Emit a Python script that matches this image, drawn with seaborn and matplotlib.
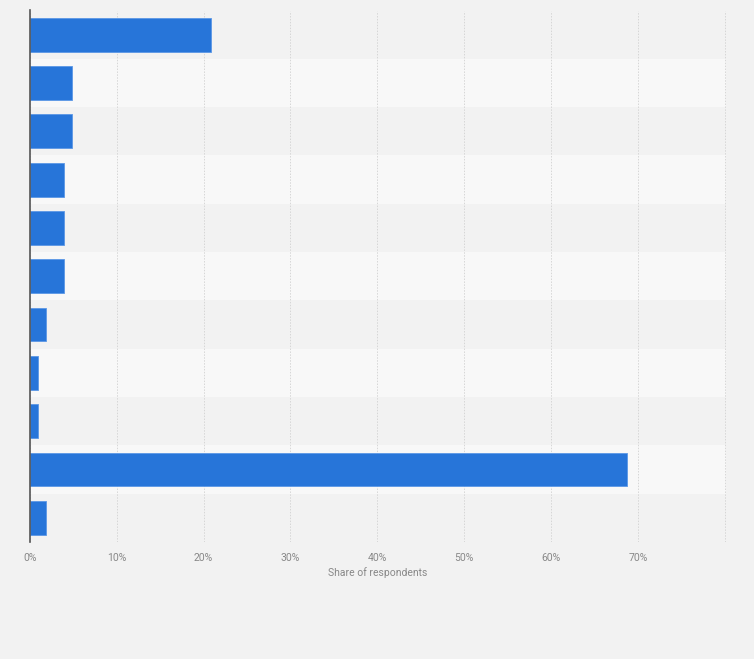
import matplotlib
matplotlib.use("Agg")
import matplotlib.pyplot as plt
import seaborn as sns

# answer options are not shown in the chart, only the shares
categories = [f"Option {i}" for i in range(1, 12)]
shares = [20.8, 4.8, 4.8, 3.9, 3.9, 3.9, 1.8, 0.9, 0.9, 68.8, 1.8]
x_ticks = [0, 10, 20, 30, 40, 50, 60, 70, 80]
x_labels = ["0%", "10%", "20%", "30%", "40%", "50%", "60%", "70%", ""]

sns.set_theme(style="white")
plt.rcParams["font.family"] = ["Liberation Sans Narrow", "Roboto", "DejaVu Sans"]

BG = "#f2f2f2"
fig = plt.figure(figsize=(7.54, 6.59), dpi=100, facecolor=BG)
ax = fig.add_axes([30 / 754, 1 - 542 / 659, (725.5 - 30) / 754, (542 - 10.5) / 659])
ax.set_facecolor(BG)

# alternating row bands
for i in range(len(categories)):
    ax.axhspan(i - 0.5, i + 0.5, color="#f2f2f2" if i % 2 == 0 else "#f8f8f8",
               lw=0, zorder=0)

sns.barplot(x=shares, y=categories, orient="h", color="#2775d9", width=0.7,
            edgecolor="#5b97e6", linewidth=0.6, saturation=1, ax=ax, zorder=3)

ax.set_xlim(0, 80.1)
ax.set_ylim(len(categories) - 0.5, -0.5)
ax.set_xticks(x_ticks)
ax.set_xticklabels(x_labels, fontsize=7.5, color="#888888")
ax.set_yticks([])
ax.set_ylabel("")
ax.tick_params(axis="x", length=0, pad=8)
ax.xaxis.grid(True, ls=(0, (1.5, 1.5)), color="#d6d6d6", lw=0.7, zorder=1)
ax.set_axisbelow(False)
for side in ("top", "right", "bottom"):
    ax.spines[side].set_visible(False)
ax.spines["left"].set_color("#555555")
ax.spines["left"].set_linewidth(1.2)
ax.spines["left"].set_zorder(4)
ax.set_xlabel("Share of respondents", fontsize=7.5, color="#888888", labelpad=3)

fig.savefig("out.png", dpi=100, facecolor=BG)
